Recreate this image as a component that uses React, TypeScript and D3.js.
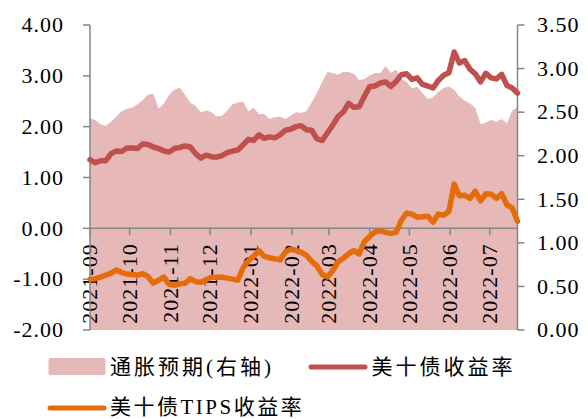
import React from "react";
import * as d3 from "d3";

const dates = [
  "2021-09-01","2021-09-05","2021-09-09","2021-09-13","2021-09-17","2021-09-21","2021-09-25","2021-09-29",
  "2021-10-03","2021-10-07","2021-10-11","2021-10-15","2021-10-19","2021-10-23","2021-10-27","2021-10-31",
  "2021-11-04","2021-11-08","2021-11-12","2021-11-16","2021-11-20","2021-11-24","2021-11-28",
  "2021-12-02","2021-12-06","2021-12-10","2021-12-14","2021-12-18","2021-12-22","2021-12-26","2021-12-30",
  "2022-01-03","2022-01-07","2022-01-11","2022-01-15","2022-01-19","2022-01-23","2022-01-27","2022-01-31",
  "2022-02-04","2022-02-08","2022-02-12","2022-02-16","2022-02-20","2022-02-24","2022-02-28",
  "2022-03-04","2022-03-08","2022-03-12","2022-03-16","2022-03-20","2022-03-24","2022-03-28",
  "2022-04-01","2022-04-05","2022-04-09","2022-04-13","2022-04-17","2022-04-21","2022-04-25","2022-04-29",
  "2022-05-03","2022-05-07","2022-05-11","2022-05-15","2022-05-19","2022-05-23","2022-05-27","2022-05-31",
  "2022-06-04","2022-06-08","2022-06-12","2022-06-16","2022-06-20","2022-06-24","2022-06-28",
  "2022-07-02","2022-07-06","2022-07-10","2022-07-14","2022-07-18","2022-07-22",
];

// 通胀预期 (right axis)
const breakeven = [
  2.43, 2.41, 2.36, 2.34, 2.39, 2.45, 2.51, 2.54,
  2.55, 2.59, 2.64, 2.70, 2.71, 2.54, 2.60, 2.70,
  2.76, 2.78, 2.70, 2.61, 2.57, 2.50, 2.52,
  2.50, 2.45, 2.46, 2.52, 2.59, 2.61, 2.62, 2.51,
  2.55, 2.48, 2.48, 2.42, 2.44, 2.45, 2.42, 2.46,
  2.50, 2.49, 2.51, 2.61, 2.72, 2.85, 2.96,
  2.95, 2.93, 2.96, 2.96, 2.94, 2.87, 2.88,
  2.92, 2.95, 2.95, 3.03, 2.95, 2.99, 2.88, 2.85,
  2.77, 2.79, 2.72, 2.65, 2.67, 2.73, 2.78, 2.79,
  2.76, 2.68, 2.63, 2.60, 2.55, 2.36, 2.38,
  2.41, 2.39, 2.42, 2.37, 2.52, 2.56,
];

// 美十债收益率 (left axis)
const ust10y = [
  1.35, 1.29, 1.33, 1.33, 1.47, 1.52, 1.51, 1.58,
  1.58, 1.57, 1.66, 1.65, 1.60, 1.57, 1.52, 1.50,
  1.57, 1.59, 1.62, 1.60, 1.47, 1.38, 1.44,
  1.41, 1.40, 1.43, 1.49, 1.52, 1.54, 1.64, 1.75,
  1.73, 1.84, 1.77, 1.80, 1.78, 1.84, 1.93, 1.95,
  2.00, 2.02, 1.94, 1.93, 1.76, 1.73, 1.88,
  2.03, 2.20, 2.29, 2.46, 2.38, 2.39, 2.60,
  2.79, 2.80, 2.86, 2.88, 2.79, 2.89, 3.02, 3.04,
  2.93, 2.96, 2.83, 2.80, 2.76, 2.91, 3.01, 3.06,
  3.47, 3.25, 3.30, 3.13, 3.04, 2.88, 3.05,
  2.96, 2.94, 3.03, 2.81, 2.76, 2.66,
];

// 美十债TIPS收益率 (left axis)
const tips10y = [
  -1.00, -0.99, -0.96, -0.92, -0.88, -0.82, -0.87, -0.90,
  -0.91, -0.92, -0.89, -0.95, -1.08, -1.02, -0.96, -1.10,
  -1.12, -1.09, -1.08, -0.99, -1.05, -1.06, -1.01,
  -0.96, -0.96, -0.96, -0.98, -1.00, -1.02, -0.78, -0.64,
  -0.55, -0.44, -0.55, -0.58, -0.60, -0.62, -0.47, -0.41,
  -0.43, -0.47, -0.53, -0.65, -0.74, -0.91, -0.96,
  -0.83, -0.66, -0.59, -0.50, -0.44, -0.50, -0.26,
  -0.16, -0.07, -0.05, -0.08, -0.10, -0.08, 0.16, 0.30,
  0.28, 0.22, 0.23, 0.24, 0.12, 0.28, 0.26, 0.33,
  0.87, 0.64, 0.65, 0.59, 0.73, 0.54, 0.68,
  0.67, 0.59, 0.68, 0.46, 0.40, 0.14,
];

const leftTicks = [4, 3, 2, 1, 0, -1, -2];
const rightTicks = [3.5, 3, 2.5, 2, 1.5, 1, 0.5, 0];
const monthTicks = [
  "2021-09-01","2021-10-01","2021-11-01","2021-12-01","2022-01-01","2022-02-01",
  "2022-03-01","2022-04-01","2022-05-01","2022-06-01","2022-07-01",
];
const domainStart = "2021-09-01";
const domainEnd = "2022-07-22";

const legendNames = ["通胀预期(右轴)", "美十债收益率", "美十债TIPS收益率"];

const parse = d3.timeParse("%Y-%m-%d");
const fmtMonth = d3.timeFormat("%Y-%m");

const COL_AREA = "#e6b8b7";
const COL_RED = "#c0504d";
const COL_ORANGE = "#e46c0a";
const COL_AXIS = "#868686";
const FONT = "'Liberation Serif', 'Times New Roman', 'Noto Sans CJK SC', serif";
const FONT_CJK = "'Liberation Serif', 'Noto Sans CJK SC', serif";

export default function App() {
  const W = 588, H = 419;
  const x = d3.scaleTime().domain([parse(domainStart)!, parse(domainEnd)!]).range([90, 517.5]);
  const yL = d3.scaleLinear().domain([-2, 4]).range([330, 25]);
  const yR = d3.scaleLinear().domain([0, 3.5]).range([330, 25]);
  const ds = dates.map((d) => parse(d)!);

  const area = d3
    .area<number>()
    .x((_, i) => x(ds[i]))
    .y0(yR(0))
    .y1((v) => yR(v));
  const lineL = d3
    .line<number>()
    .x((_, i) => x(ds[i]))
    .y((v) => yL(v));

  const [x0, x1] = x.range();

  return (
    <svg width={W} height={H} style={{ position: "absolute", left: 0, top: 0, background: "#fff" }}>
      <path d={area(breakeven) || ""} fill={COL_AREA} stroke="none" />

      {/* x axis at 0 on left scale */}
      <line x1={x0} x2={x1} y1={yL(0)} y2={yL(0)} stroke={COL_AXIS} strokeWidth={1.5} />
      {monthTicks.map((m) => {
        const px = x(parse(m)!);
        return (
          <g key={m}>
            <line x1={px} x2={px} y1={yL(0)} y2={yL(0) + 7} stroke={COL_AXIS} strokeWidth={1.5} />
            <text
              transform={`translate(${px},${yL(0) + 15}) rotate(-90)`}
              textAnchor="end"
              dy="0.33em"
              fontFamily={FONT}
              fontSize={22}
              letterSpacing={1}
              fill="#000"
            >
              {fmtMonth(parse(m)!)}
            </text>
          </g>
        );
      })}

      {/* left axis */}
      <line x1={x0} x2={x0} y1={yL(4)} y2={yL(-2)} stroke={COL_AXIS} strokeWidth={1.5} />
      {leftTicks.map((t) => (
        <g key={t}>
          <line x1={x0 - 7} x2={x0} y1={yL(t)} y2={yL(t)} stroke={COL_AXIS} strokeWidth={1.5} />
          <text x={64} y={yL(t)} dy="0.33em" textAnchor="end" fontFamily={FONT} fontSize={22} letterSpacing={1} fill="#000">
            {t.toFixed(2)}
          </text>
        </g>
      ))}

      {/* right axis */}
      <line x1={x1} x2={x1} y1={yR(3.5)} y2={yR(0)} stroke={COL_AXIS} strokeWidth={1.5} />
      {rightTicks.map((t) => (
        <g key={t}>
          <line x1={x1} x2={x1 + 7} y1={yR(t)} y2={yR(t)} stroke={COL_AXIS} strokeWidth={1.5} />
          <text x={537} y={yR(t)} dy="0.33em" textAnchor="start" fontFamily={FONT} fontSize={22} letterSpacing={1} fill="#000">
            {t.toFixed(2)}
          </text>
        </g>
      ))}

      {/* lines */}
      <path d={lineL(ust10y) || ""} fill="none" stroke={COL_RED} strokeWidth={5.5} strokeLinejoin="round" strokeLinecap="round" />
      <path d={lineL(tips10y) || ""} fill="none" stroke={COL_ORANGE} strokeWidth={5.5} strokeLinejoin="round" strokeLinecap="round" />

      {/* legend */}
      <rect x={48.5} y={358} width={57} height={17} rx={2} fill={COL_AREA} />
      <text x={110} y={366.5} dy="0.36em" fontFamily={FONT_CJK} fontSize={21} letterSpacing={3} fill="#000">
        {legendNames[0]}
      </text>
      <line x1={311} x2={365} y1={367} y2={367} stroke={COL_RED} strokeWidth={5} strokeLinecap="round" />
      <text x={371.5} y={366.5} dy="0.36em" fontFamily={FONT_CJK} fontSize={21} letterSpacing={3} fill="#000">
        {legendNames[1]}
      </text>
      <line x1={50} x2={104} y1={408} y2={408} stroke={COL_ORANGE} strokeWidth={5} strokeLinecap="round" />
      <text x={110} y={406.5} dy="0.36em" fontFamily={FONT_CJK} fontSize={21} letterSpacing={2.5} fill="#000">
        {legendNames[2]}
      </text>
    </svg>
  );
}
